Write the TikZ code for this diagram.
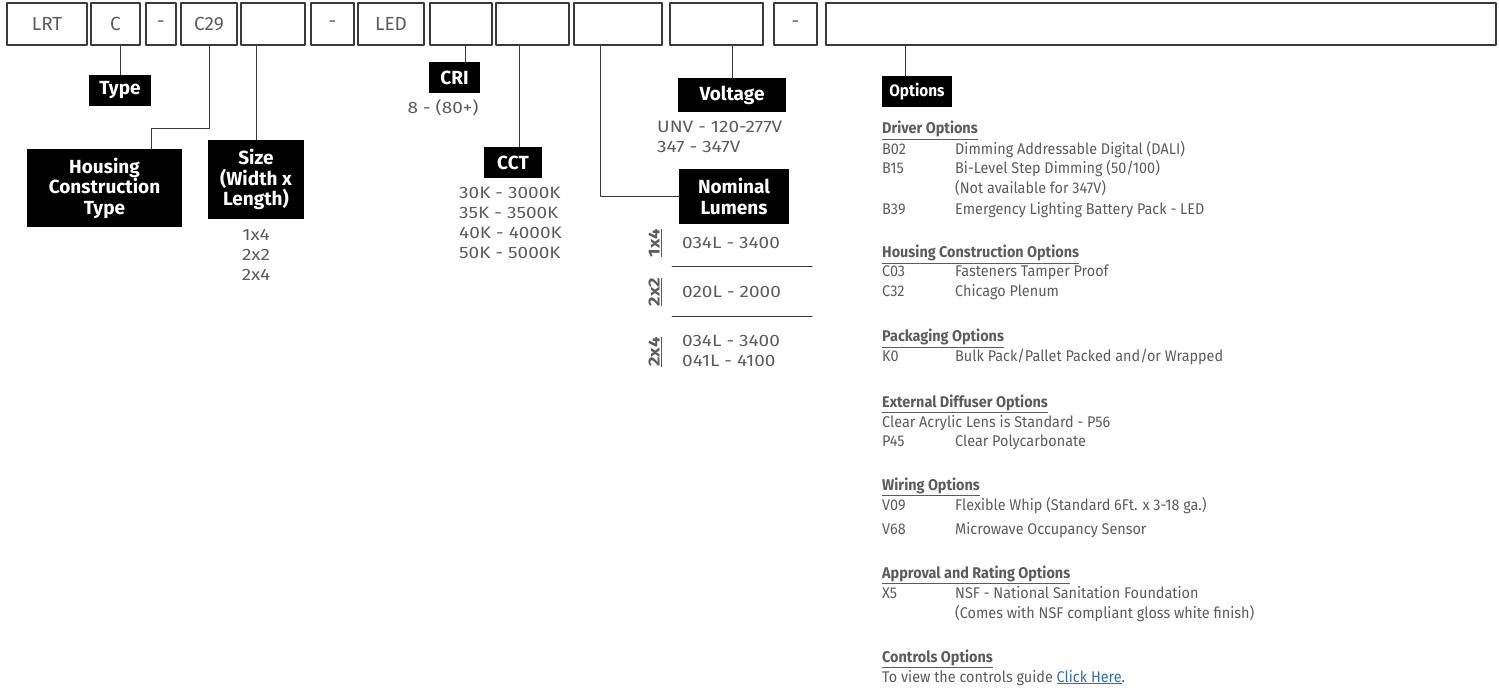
\documentclass[tikz,border=0pt]{standalone}
\usepackage{fontspec}
\setmainfont{Fira Sans}
\newfontfamily\widefont[FakeStretch=1.15]{Fira Sans}
\newfontfamily\condfont[FakeStretch=0.93]{Fira Sans}
\usetikzlibrary{positioning}
\definecolor{inkgray}{HTML}{5C5C5C}
\definecolor{framegray}{HTML}{3A3A3A}
\definecolor{linkblue}{HTML}{2F6DB5}
\tikzset{
  codebox/.style={draw=framegray,line width=1.3pt,minimum height=42pt,inner sep=0pt,
    text=inkgray,font=\fontsize{19}{21}\selectfont},
  tagbox/.style={fill=black,text=white,align=center,inner sep=0pt,
    font=\bfseries\fontsize{19}{20.5}\selectfont},
  lead/.style={line width=1pt,framegray},
  listtext/.style={text=inkgray,align=left,inner sep=0pt,font=\widefont\fontsize{16.5}{20}\selectfont},
  sizetag/.style={text=inkgray,rotate=90,inner sep=0pt,font=\widefont\bfseries\fontsize{16}{18}\selectfont},
  optline/.style={text=inkgray,anchor=west,inner sep=0pt,text height=11pt,text depth=3pt,
    font=\condfont\fontsize{15.5}{20}\selectfont},
  opthead/.style={optline,font=\condfont\bfseries\fontsize{15.5}{20}\selectfont},
}
\begin{document}
\begin{tikzpicture}[x=1pt,y=-1pt,line cap=round,line join=round]
  \useasboundingbox (0,0) rectangle (1499,692);
  % catalogue number boxes
  \node[codebox,minimum width=80pt] (lrt) at (47,24) {LRT};
  \node[codebox,minimum width=49pt] (c) at (115.5,24) {C};
  \node[codebox,minimum width=30pt] (dasha) at (161,24) {-};
  \node[codebox,minimum width=56pt] (c29) at (209,24) {C29};
  \node[codebox,minimum width=64pt] (szbox) at (273,24) {};
  \node[codebox,minimum width=43pt] (dashb) at (332.5,24) {-};
  \node[codebox,minimum width=66pt] (led) at (391,24) {LED};
  \node[codebox,minimum width=62pt] (cribox) at (461,24) {};
  \node[codebox,minimum width=73pt] (cctbox) at (532.5,24) {};
  \node[codebox,minimum width=88pt] (lumbox) at (618,24) {};
  \node[codebox,minimum width=93pt] (voltbox) at (716.5,24) {};
  \node[codebox,minimum width=43pt] (dashc) at (795.5,24) {-};
  \node[codebox,minimum width=670pt] (optbox) at (1161,24) {};
  % black tags
  \node[tagbox,minimum width=62pt,minimum height=31pt] (type) at (120,90.5) {Type};
  \node[tagbox,minimum width=155pt,minimum height=78pt] (hct) at (104.5,188) {Housing\\Construction\\Type};
  \node[tagbox,minimum width=96pt,minimum height=79pt] (size) at (256,179.5) {Size\\(Width x\\Length)};
  \node[tagbox,minimum width=51pt,minimum height=31pt] (cri) at (454.5,77.5) {CRI};
  \node[tagbox,minimum width=58pt,minimum height=31pt] (cct) at (513,162.5) {CCT};
  \node[tagbox,minimum width=108pt,minimum height=34pt] (volt) at (732,95) {Voltage};
  \node[tagbox,minimum width=110pt,minimum height=55pt] (nom) at (734,196.5) {Nominal\\Lumens};
  \node[tagbox,minimum width=70pt,minimum height=31pt,font=\condfont\bfseries\fontsize{16.5}{19}\selectfont] (opt) at (917,91.5) {Options};
  % leaders
  \draw[lead] (type.north) -- (type.north |- c.south);
  \draw[lead] (c29.south) -- ++(0,83) -| ([xshift=46.5pt]hct.north);
  \draw[lead] (size.north) -- (size.north |- szbox.south);
  \draw[lead] ([xshift=10.5pt]cri.north) -- ([xshift=10.5pt]cri.north |- cribox.south);
  \draw[lead] ([xshift=6pt]cct.north) -- ([xshift=6pt]cct.north |- cctbox.south);
  \draw[lead] ([xshift=-18pt]lumbox.south) |- (nom.west);
  \draw[lead] (volt.north) -- (volt.north |- voltbox.south);
  \draw[lead] ([xshift=-12pt]opt.north) -- ([xshift=-12pt]opt.north |- optbox.south);
  % values
  \node[listtext,align=center] (sizes) at (256,255) {1x4\\2x2\\2x4};
  \node[listtext] (crival) at (443,108) {8 - (80+)};
  \node[listtext,anchor=west] (cctval) at (459,223) {30K - 3000K\\35K - 3500K\\40K - 4000K\\50K - 5000K};
  \node[listtext,anchor=west] (voltval) at (657,137) {UNV - 120-277V\\347 - 347V};
  \node[sizetag] (lumsa) at (655,243) {\underline{1x4}};
  \node[sizetag] (lumsb) at (655,292) {\underline{2x2}};
  \node[sizetag] (lumsc) at (655,352) {\underline{2x4}};
  \node[listtext,anchor=west] (luma) at (682,243) {034L - 3400};
  \node[listtext,anchor=west] (lumb) at (682,292) {020L - 2000};
  \node[listtext,anchor=west] (lumc) at (682,351) {034L - 3400\\041L - 4100};
  \draw[lead] (672,267) -- (812,267);
  \draw[lead] (672,317) -- (812,317);
  % options list
  \node[opthead] (drv) at (882,130) {\underline{Driver Options}};
  \node[opthead] (hco) at (882,254) {\underline{Housing Construction Options}};
  \node[opthead] (pkg) at (882,338) {\underline{Packaging Options}};
  \node[opthead] (ext) at (882,403) {\underline{External Diffuser Options}};
  \node[opthead] (wir) at (882,486) {\underline{Wiring Options}};
  \node[opthead] (apr) at (882,574) {\underline{Approval and Rating Options}};
  \node[opthead] (ctl) at (882,658) {\underline{Controls Options}};
  \foreach \yy/\code/\desc [count=\i] in {
      151/B02/{Dimming Addressable Digital (DALI)},
      170/B15/{Bi-Level Step Dimming (50/100)},
      190/{}/{(Not available for 347V)},
      211/B39/{Emergency Lighting Battery Pack - LED},
      273/C03/{Fasteners Tamper Proof},
      293/C32/{Chicago Plenum},
      358/K0/{Bulk Pack/Pallet Packed and/or Wrapped},
      442/P45/{Clear Polycarbonate},
      506/V09/{Flexible Whip (Standard 6Ft. x 3-18 ga.)},
      530/V68/{Microwave Occupancy Sensor},
      594/X5/{NSF - National Sanitation Foundation},
      614/{}/{(Comes with NSF compliant gloss white finish)}} {
    \node[optline] (oc\i) at (882,\yy) {\code};
    \node[optline] (od\i) at (955,\yy) {\desc};
  }
  \node[optline] (lens) at (882,423) {Clear Acrylic Lens is Standard - P56};
  \node[optline] (guide) at (882,678) {To view the controls guide \textcolor{linkblue}{\underline{Click Here}}.};
\end{tikzpicture}
\end{document}
